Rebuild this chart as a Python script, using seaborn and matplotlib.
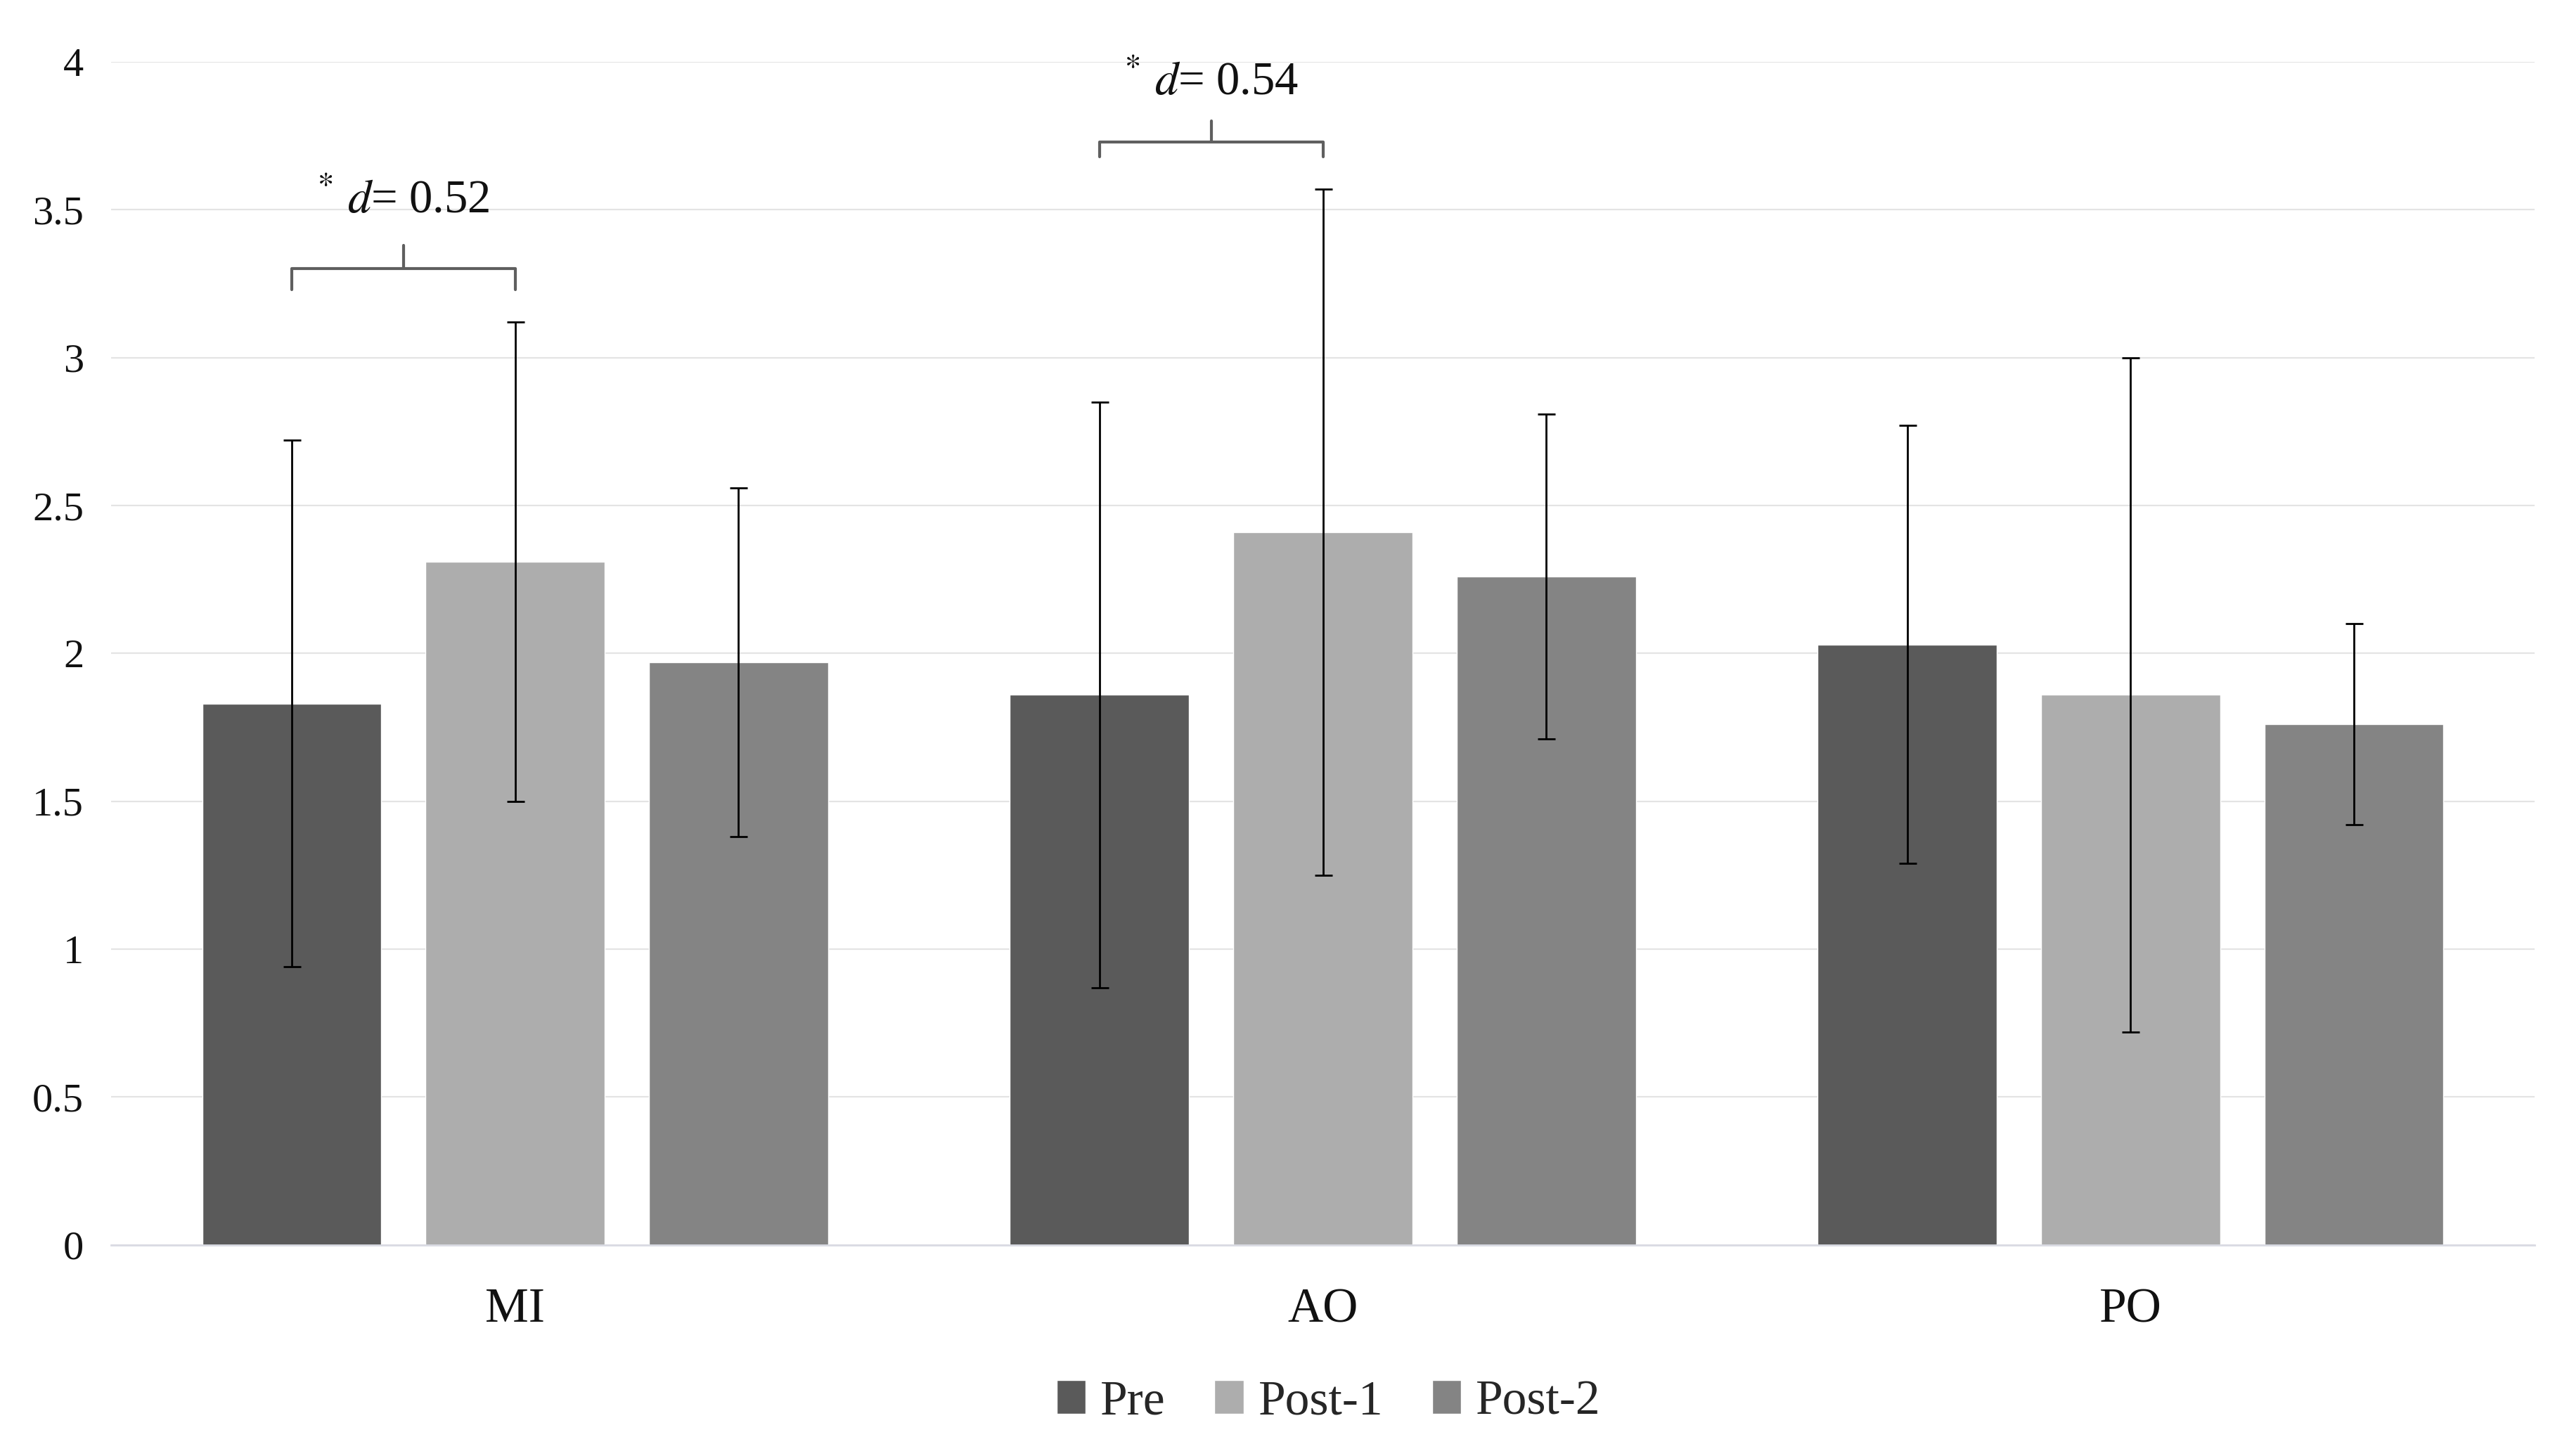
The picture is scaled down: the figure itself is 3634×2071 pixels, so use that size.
import numpy as np
import pandas as pd
import seaborn as sns
import matplotlib.pyplot as plt

# dati
categories = ["MI", "AO", "PO"]
phases = ["Pre", "Post-1", "Post-2"]
mean_pre = [1.83, 1.86, 2.03]
mean_post1 = [2.31, 2.41, 1.86]
mean_post2 = [1.97, 2.26, 1.76]
sd_pre = [0.89, 0.99, 0.74]
sd_post1 = [0.81, 1.16, 1.14]
sd_post2 = [0.59, 0.55, 0.34]
y_ticks = [0, 0.5, 1, 1.5, 2, 2.5, 3, 3.5, 4]
effects = [("MI", "* ", "0.52"), ("AO", "* ", "0.54")]

colors = ["#5a5a5a", "#adadad", "#848484"]

sns.set_style("white")
plt.rcParams['font.family'] = ['Liberation Serif', 'DejaVu Serif']
plt.rcParams['mathtext.fontset'] = 'stix'

df = pd.DataFrame({
    "cat": categories * 3,
    "phase": sum([[p] * 3 for p in phases], []),
    "mean": mean_pre + mean_post1 + mean_post2,
    "sd": sd_pre + sd_post1 + sd_post2,
})

fig = plt.figure(figsize=(36.34, 20.71), dpi=100)
ax = fig.add_axes([0.0435, 0.145, 0.9485, 0.8125])

sns.barplot(data=df, x="cat", y="mean", hue="phase", order=categories,
            hue_order=phases, palette=colors, errorbar=None,
            width=0.83, gap=0.2, ax=ax, legend=True, zorder=2)

# barre di errore (SD) sui centri delle barre
for cont, ph in zip(ax.containers, phases):
    sub = df[df.phase == ph].set_index("cat").loc[categories]
    xs = [p.get_x() + p.get_width() / 2 for p in cont]
    ax.errorbar(xs, sub["mean"], yerr=sub["sd"], fmt="none", ecolor="black",
                elinewidth=2.0, capsize=9, capthick=2.0, zorder=3)

# parentesi con effect size
brace_y = {"MI": (3.23, 3.30, 3.38, 3.53), "AO": (3.68, 3.73, 3.80, 3.93)}
for cat, star, val in effects:
    i = categories.index(cat)
    x0 = ax.containers[0][i].get_x() + ax.containers[0][i].get_width() / 2
    x1 = ax.containers[1][i].get_x() + ax.containers[1][i].get_width() / 2
    xm = (x0 + x1) / 2
    y_end, y_line, y_top, y_txt = brace_y[cat]
    ax.plot([x0, x0, x1, x1], [y_end, y_line, y_line, y_end], color="#5f5f5f",
            lw=3, solid_joinstyle="round", zorder=3)
    ax.plot([xm, xm], [y_line, y_top], color="#5f5f5f", lw=3, zorder=3)
    ax.text(xm, y_txt, r"$^{*}$ $\mathit{d}$= " + val, ha="center", va="center",
            fontsize=48, color="#111111")

ax.set_ylim(0, 4)
ax.set_xlim(-0.5, 2.5)
ax.set_yticks(y_ticks)
ax.set_yticklabels([f"{t:g}" for t in y_ticks])
ax.yaxis.grid(True, color="#e4e4e4", lw=1.6, zorder=0)
ax.set_axisbelow(True)
ax.set_xlabel("")
ax.set_ylabel("")
ax.tick_params(axis="both", length=0, colors="#111111")
ax.tick_params(axis="y", labelsize=42, pad=28)
ax.tick_params(axis="x", labelsize=50, pad=44)
for s in ["top", "right", "left"]:
    ax.spines[s].set_visible(False)
ax.spines["bottom"].set_color("#d9dbe3")
ax.spines["bottom"].set_linewidth(2)

h, l = ax.get_legend_handles_labels()
ax.get_legend().remove()
fig.legend(h, l, loc="center", bbox_to_anchor=(0.52, 0.037), ncol=3,
           frameon=False, fontsize=50, handlelength=0.6, handleheight=0.7,
           handletextpad=0.3, columnspacing=1.0)

fig.savefig("out.png", dpi=100)
